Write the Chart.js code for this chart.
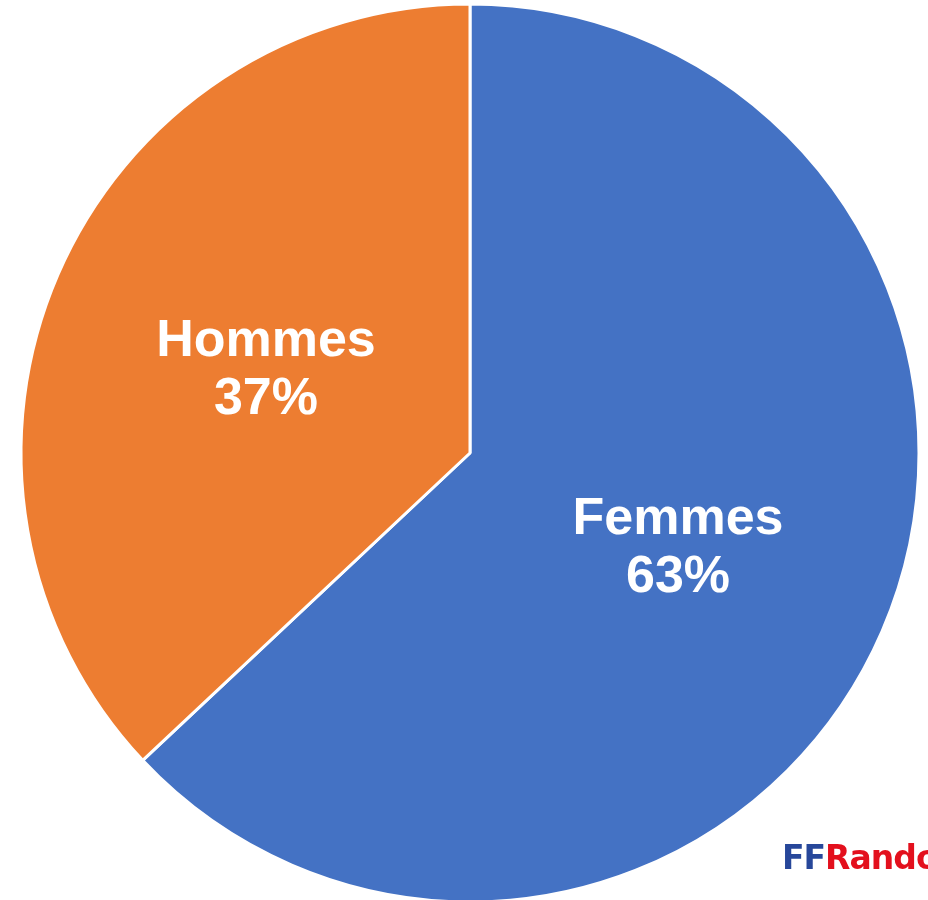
<!DOCTYPE html>
<html>
<head>
<meta charset="utf-8">
<script src="https://cdn.jsdelivr.net/npm/chart.js@4/dist/chart.umd.min.js"></script>
<style>
  html, body { margin: 0; padding: 0; background: #ffffff; overflow: hidden; }
  #wrap { position: relative; width: 928px; height: 900px; }
  #logo { position: absolute; left: 782px; top: 838px; white-space: nowrap;
          font-family: "DejaVu Sans", sans-serif; font-weight: bold; font-size: 33px; letter-spacing: -1px; }
  #logo .ff { color: #27479a; }
  #logo .rd { color: #e3101d; }
</style>
</head>
<body>
<div id="wrap">
  <canvas id="c" width="928" height="900"></canvas>
  <div id="logo"><span class="ff">FF</span><span class="rd">Randonnée</span></div>
</div>
<script>
const categories = ["Femmes", "Hommes"];
const values = [63, 37];
const colors = ["#4472C4", "#ED7D31"];

const labelPlugin = {
  id: 'sliceLabels',
  afterDatasetsDraw(chart) {
    const ctx = chart.ctx;
    const meta = chart.getDatasetMeta(0);
    const data = chart.data.datasets[0].data;
    const total = data.reduce((a, b) => a + b, 0);
    ctx.save();
    ctx.fillStyle = '#ffffff';
    ctx.font = 'bold 52px "Liberation Sans", Arial, sans-serif';
    ctx.textAlign = 'center';
    ctx.textBaseline = 'alphabetic';
    meta.data.forEach((arc, i) => {
      const p = arc.tooltipPosition();
      const pct = Math.round(data[i] / total * 100) + '%';
      ctx.fillText(chart.data.labels[i], p.x + 2, p.y - 8);
      ctx.fillText(pct, p.x + 2, p.y + 50);
    });
    ctx.restore();
  }
};

new Chart(document.getElementById('c'), {
  type: 'pie',
  data: {
    labels: categories,
    datasets: [{
      data: values,
      backgroundColor: colors,
      borderColor: '#ffffff',
      borderWidth: 3
    }]
  },
  options: {
    responsive: false,
    animation: false,
    radius: 449,
    layout: { padding: { left: 12, right: 0, top: 6, bottom: 0 } },
    plugins: {
      legend: { display: false },
      tooltip: { enabled: false }
    }
  },
  plugins: [labelPlugin]
});
</script>
</body>
</html>
